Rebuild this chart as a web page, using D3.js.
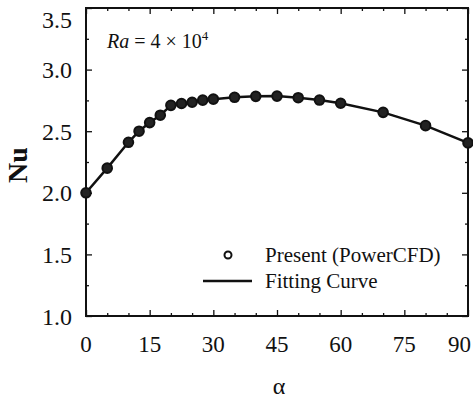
<!DOCTYPE html>
<html>
<head>
<meta charset="utf-8">
<script src="https://cdn.jsdelivr.net/npm/d3@7"></script>
<style>
  body { margin: 0; background: #fff; }
  svg { display: block; font-family: "Liberation Serif", "Times New Roman", serif; }
</style>
</head>
<body>
<div id="chart"></div>
<script>
// angle (deg) and Nusselt number
const alpha = [0, 5, 10, 12.5, 15, 17.5, 20, 22.5, 25, 27.5, 30, 35, 40, 45, 50, 55, 60, 70, 80, 90];
const nu = [2.0, 2.2, 2.41, 2.5, 2.57, 2.63, 2.71, 2.725, 2.735, 2.752, 2.76, 2.775, 2.783, 2.785, 2.772, 2.753, 2.727, 2.653, 2.545, 2.405];
const xTicks = [0, 15, 30, 45, 60, 75, 90];
const yTicks = [1.0, 1.5, 2.0, 2.5, 3.0, 3.5];

const width = 473, height = 399;
const margin = { top: 8, right: 5, bottom: 83, left: 86 };

const x = d3.scaleLinear().domain([0, 90]).range([margin.left, width - margin.right]);
const y = d3.scaleLinear().domain([1.0, 3.5]).range([height - margin.bottom, margin.top]);

const svg = d3.select("#chart").append("svg")
    .attr("width", width)
    .attr("height", height);

const data = alpha.map((a, i) => ({ a, v: nu[i] }));

// inward ticks on all four sides
const bottom = svg.append("g")
    .attr("transform", `translate(0,${y(1.0)})`)
    .call(d3.axisBottom(x).tickValues(d3.range(0, 91, 5)).tickSizeInner(-3).tickSizeOuter(0).tickFormat(""));
bottom.selectAll(".tick line").filter(d => d % 15 === 0).attr("y2", -6);

svg.append("g")
    .attr("transform", `translate(0,${y(3.5)})`)
    .call(d3.axisTop(x).tickValues(d3.range(0, 91, 5)).tickSizeInner(-3).tickSizeOuter(0).tickFormat(""))
    .selectAll(".tick line").filter(d => d % 15 === 0).attr("y2", 6);

const left = svg.append("g")
    .attr("transform", `translate(${x(0)},0)`)
    .call(d3.axisLeft(y).tickValues(d3.range(1.0, 3.51, 0.25)).tickSizeInner(-3).tickSizeOuter(0).tickFormat(""));
left.selectAll(".tick line").filter(d => Math.abs(d * 2 - Math.round(d * 2)) < 1e-6).attr("x2", 6);

svg.append("g")
    .attr("transform", `translate(${x(90)},0)`)
    .call(d3.axisRight(y).tickValues(d3.range(1.0, 3.51, 0.25)).tickSizeInner(-3).tickSizeOuter(0).tickFormat(""))
    .selectAll(".tick line").filter(d => Math.abs(d * 2 - Math.round(d * 2)) < 1e-6).attr("x2", -6);

svg.selectAll(".domain").remove();
svg.selectAll(".tick line").attr("stroke", "#111").attr("stroke-width", 1.3);

// frame
svg.append("rect")
    .attr("x", x(0)).attr("y", y(3.5))
    .attr("width", x(90) - x(0)).attr("height", y(1.0) - y(3.5))
    .attr("fill", "none").attr("stroke", "#111").attr("stroke-width", 2);

// tick labels (end labels nudged inward to stay on the page)
svg.append("g").selectAll("text")
    .data(xTicks)
    .join("text")
    .attr("x", d => d === 90 ? width - 2 : x(d))
    .attr("y", 352)
    .attr("text-anchor", d => d === 90 ? "end" : "middle")
    .attr("font-size", 23)
    .attr("fill", "#111")
    .text(d => d);

svg.append("g").selectAll("text")
    .data(yTicks)
    .join("text")
    .attr("x", 72)
    .attr("y", d => d === 3.5 ? y(d) + 11 : y(d))
    .attr("dy", "0.36em")
    .attr("text-anchor", "end")
    .attr("font-size", 24)
    .attr("fill", "#111")
    .text(d => d.toFixed(1));

// axis titles
svg.append("text")
    .attr("transform", "translate(27,165) rotate(-90)")
    .attr("text-anchor", "middle")
    .attr("font-size", 28)
    .attr("font-weight", "bold")
    .attr("fill", "#111")
    .text("Nu");

svg.append("text")
    .attr("x", 279)
    .attr("y", 394)
    .attr("text-anchor", "middle")
    .attr("font-size", 24)
    .attr("fill", "#111")
    .text("α");

// annotation
const ann = svg.append("text")
    .attr("x", 107)
    .attr("y", 48)
    .attr("font-size", 20)
    .attr("fill", "#111");
ann.append("tspan").attr("font-style", "italic").text("Ra");
ann.append("tspan").text(" = 4 × 10");
ann.append("tspan").attr("font-size", 13).attr("dy", -8).text("4");

// fitting curve
svg.append("path")
    .datum(data)
    .attr("fill", "none")
    .attr("stroke", "#111")
    .attr("stroke-width", 2.5)
    .attr("d", d3.line().x(d => x(d.a)).y(d => y(d.v)));

// data points
svg.append("g").selectAll("circle")
    .data(data)
    .join("circle")
    .attr("cx", d => x(d.a))
    .attr("cy", d => y(d.v))
    .attr("r", 4.8)
    .attr("fill", "#222")
    .attr("stroke", "#111")
    .attr("stroke-width", 2);

// legend
const lg = svg.append("g");
lg.append("circle")
    .attr("cx", 228).attr("cy", 255).attr("r", 3.5)
    .attr("fill", "#fff").attr("stroke", "#111").attr("stroke-width", 2);
lg.append("line")
    .attr("x1", 203).attr("x2", 252).attr("y1", 281).attr("y2", 281)
    .attr("stroke", "#111").attr("stroke-width", 2.5);
lg.append("text")
    .attr("x", 265).attr("y", 262)
    .attr("font-size", 21).attr("fill", "#111")
    .text("Present (PowerCFD)");
lg.append("text")
    .attr("x", 265).attr("y", 288)
    .attr("font-size", 21).attr("fill", "#111")
    .text("Fitting Curve");
</script>
</body>
</html>
